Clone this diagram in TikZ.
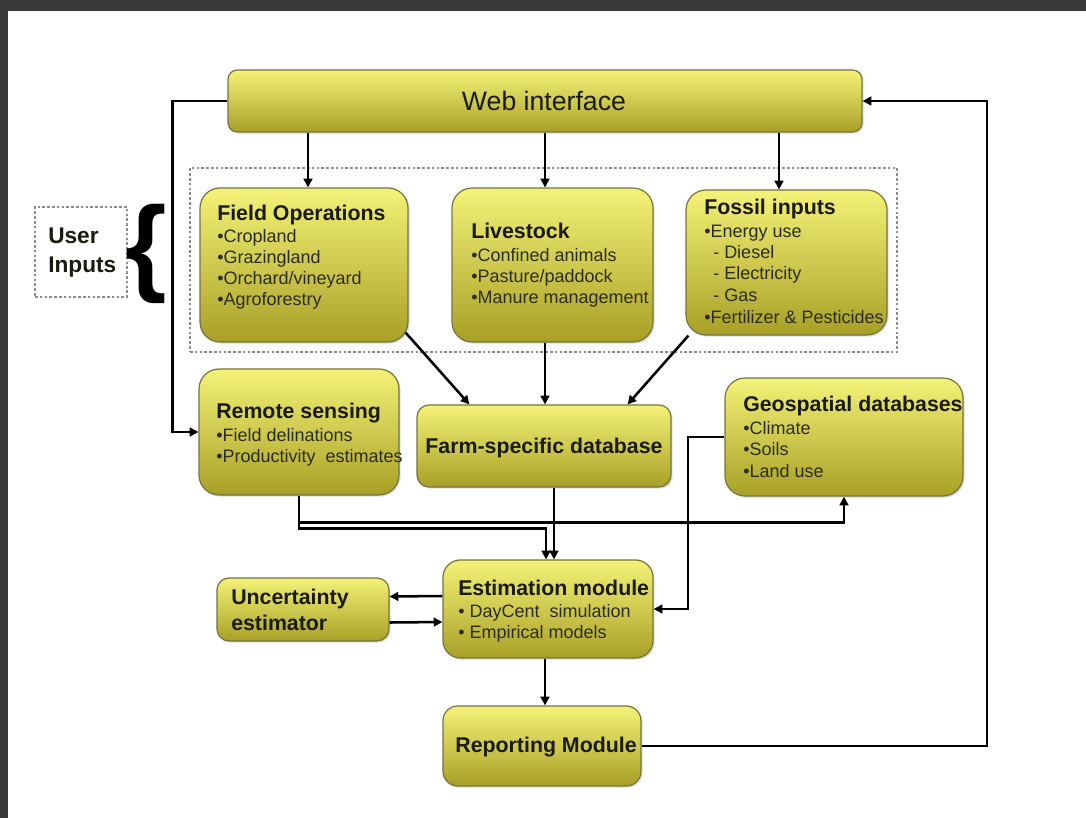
\documentclass[tikz,border=0pt]{standalone}
\usepackage{fontspec}
\setmainfont{Liberation Sans}
\usetikzlibrary{arrows.meta,calc,fit,shadows}
\definecolor{frame}{RGB}{58,58,58}
\definecolor{ytop}{RGB}{244,242,120}
\definecolor{ymid}{RGB}{232,228,60}
\definecolor{ybot}{RGB}{168,160,38}
\definecolor{yline}{RGB}{118,116,58}
\definecolor{ttlc}{RGB}{26,26,14}
\definecolor{itmc}{RGB}{44,44,28}
\definecolor{dashc}{RGB}{140,140,140}
\tikzset{
  ybox/.style={draw=yline, line width=0.9pt, rounded corners=#1, top color=ytop, middle color=ymid, bottom color=ybot, inner sep=0pt,
    drop shadow={opacity=0.25, shadow xshift=1.2pt, shadow yshift=-1.2pt}},
  ybox/.default=10pt,
  dbox/.style={draw=dashc, line width=0.9pt, dash pattern=on 2pt off 1.6pt, inner sep=0pt},
  arr/.style={draw=black, line width=1.9pt, -{Triangle[length=6.5pt,width=6.5pt]}},
  ttl/.style={anchor=base west, inner sep=0pt, text=ttlc, font=\fontsize{16}{18}\selectfont\bfseries},
  itm/.style={anchor=base west, inner sep=0pt, text=itmc, font=\fontsize{13.5}{15}\selectfont},
  ctr/.style={anchor=base, inner sep=0pt, text=ttlc, font=\fontsize{16}{18}\selectfont\bfseries},
}
\begin{document}
\begin{tikzpicture}[x=0.75pt,y=-0.75pt]
\useasboundingbox (0,0) rectangle (1086,818);
\fill[white] (0,0) rectangle (1086,818);
\fill[frame] (0,0) rectangle (1086,11);
\fill[frame] (0,0) rectangle (8,818);

% dashed group and user inputs
\node[dbox, fit={(190,168) (897,352)}] (grp) {};
\node[dbox, fit={(35,207) (127,297)}] (uibox) {};
\node[anchor=base west, inner sep=0pt, text=ttlc, font=\fontsize{17}{20}\selectfont\bfseries] (ui1) at (48,243) {User};
\node[anchor=base west, inner sep=0pt, text=ttlc, font=\fontsize{17}{20}\selectfont\bfseries] (ui2) at (48,272) {Inputs};
\node[inner sep=0pt, text=black, font=\fontsize{80}{80}\selectfont\bfseries] (brace) at (146,254) {\{};

% boxes
\node[ybox=7pt, fit={(228,70) (862,132)}] (web) {};
\node[anchor=base, inner sep=0pt, text=ttlc, font=\fontsize{20}{24}\selectfont] (webt) at (544,110) {Web interface};

\node[ybox=15pt, fit={(200,188) (408,342)}] (fo) {};
\node[ttl] (fo0) at (217,220) {Field Operations};
\node[itm] (fo1) at (217,242) {•Cropland};
\node[itm] (fo2) at (217,263) {•Grazingland};
\node[itm] (fo3) at (217,284) {•Orchard/vineyard};
\node[itm] (fo4) at (217,305) {•Agroforestry};

\node[ybox=15pt, fit={(452,188) (653,342)}] (lv) {};
\node[ttl] (lv0) at (471,238) {Livestock};
\node[itm] (lv1) at (471,261) {•Confined animals};
\node[itm] (lv2) at (471,282) {•Pasture/paddock};
\node[itm] (lv3) at (471,303) {•Manure management};

\node[ybox=15pt, fit={(686,190) (887,335)}] (fi) {};
\node[ttl] (fi0) at (704,214) {Fossil inputs};
\node[itm] (fi1) at (704,237) {•Energy use};
\node[itm] (fi2) at (713,258) {- Diesel};
\node[itm] (fi3) at (713,279) {- Electricity};
\node[itm] (fi4) at (713,301) {- Gas};
\node[itm] (fi5) at (704,323) {•Fertilizer \& Pesticides};

\node[ybox=15pt, fit={(199,369) (399,495)}] (rs) {};
\node[ttl] (rs0) at (216,418) {Remote sensing};
\node[itm] (rs1) at (216,441) {•Field delinations};
\node[itm] (rs2) at (216,462) {•Productivity\ \ estimates};

\node[ybox=9pt, fit={(417,405) (671,487)}] (fd) {};
\node[ctr] (fdt) at (544,453) {Farm-specific database};

\node[ybox=15pt, fit={(725,378) (963,496)}] (geo) {};
\node[ttl] (geo0) at (743,411) {Geospatial databases};
\node[itm] (geo1) at (743,434) {•Climate};
\node[itm] (geo2) at (743,455) {•Soils};
\node[itm] (geo3) at (743,477) {•Land use};

\node[ybox=13pt, fit={(443,560) (653,658)}] (est) {};
\node[ttl] (est0) at (458,595) {Estimation module};
\node[itm] (est1) at (458,617) {• DayCent\ \ simulation};
\node[itm] (est2) at (458,638) {• Empirical models};

\node[ybox=9pt, fit={(217,578) (389,641)}] (unc) {};
\node[ttl] (unc0) at (231,604) {Uncertainty};
\node[ttl] (unc1) at (231,630) {estimator};

\node[ybox=11pt, fit={(443,706) (641,786)}] (rep) {};
\node[ctr] (rept) at (546,752) {Reporting Module};

% column coordinates
\coordinate (c1) at (308,0);
\coordinate (c2) at (545,0);
\coordinate (c3) at (779,0);
\coordinate (gc) at (688,0);
\coordinate (rc) at (987,0);

% connectors
\draw[arr] (web.south -| c1) -- (fo.north -| c1);
\draw[arr] (web.south -| c2) -- (lv.north -| c2);
\draw[arr] (web.south -| c3) -- (fi.north -| c3);

\draw[arr] ($(fo.south east)+(-3,-10)$) -- ($(fd.north west)+(53,0)$);
\draw[arr] (lv.south -| c2) -- (fd.north -| c2);
\draw[arr] ($(fi.south west)+(3,0)$) -- ($(fd.north east)+(-44,0)$);

\draw[arr] (web.west) -- ++(-55,0) |- (rs.west);
\draw[arr] (rs.south) -- ++(0,27) -| (geo.south);
\draw[arr] (rs.south) -- ++(0,33) -| ($(est.north)+(-2,0)$);
\draw[arr] ($(fd.south)+(10,0)$) -- ($(est.north)+(6,0)$);
\draw[arr] (geo.west) -- (gc |- geo.west) |- (est.east);

\draw[arr] ($(est.west)+(0,-13)$) -- ($(unc.east)+(0,-13)$);
\draw[arr] ($(unc.east)+(0,13)$) -- ($(est.west)+(0,13)$);
\draw[arr] (est.south -| c2) -- (rep.north -| c2);
\draw[arr] (rep.east) -- (rc |- rep.east) |- (web.east);
\end{tikzpicture}
\end{document}
